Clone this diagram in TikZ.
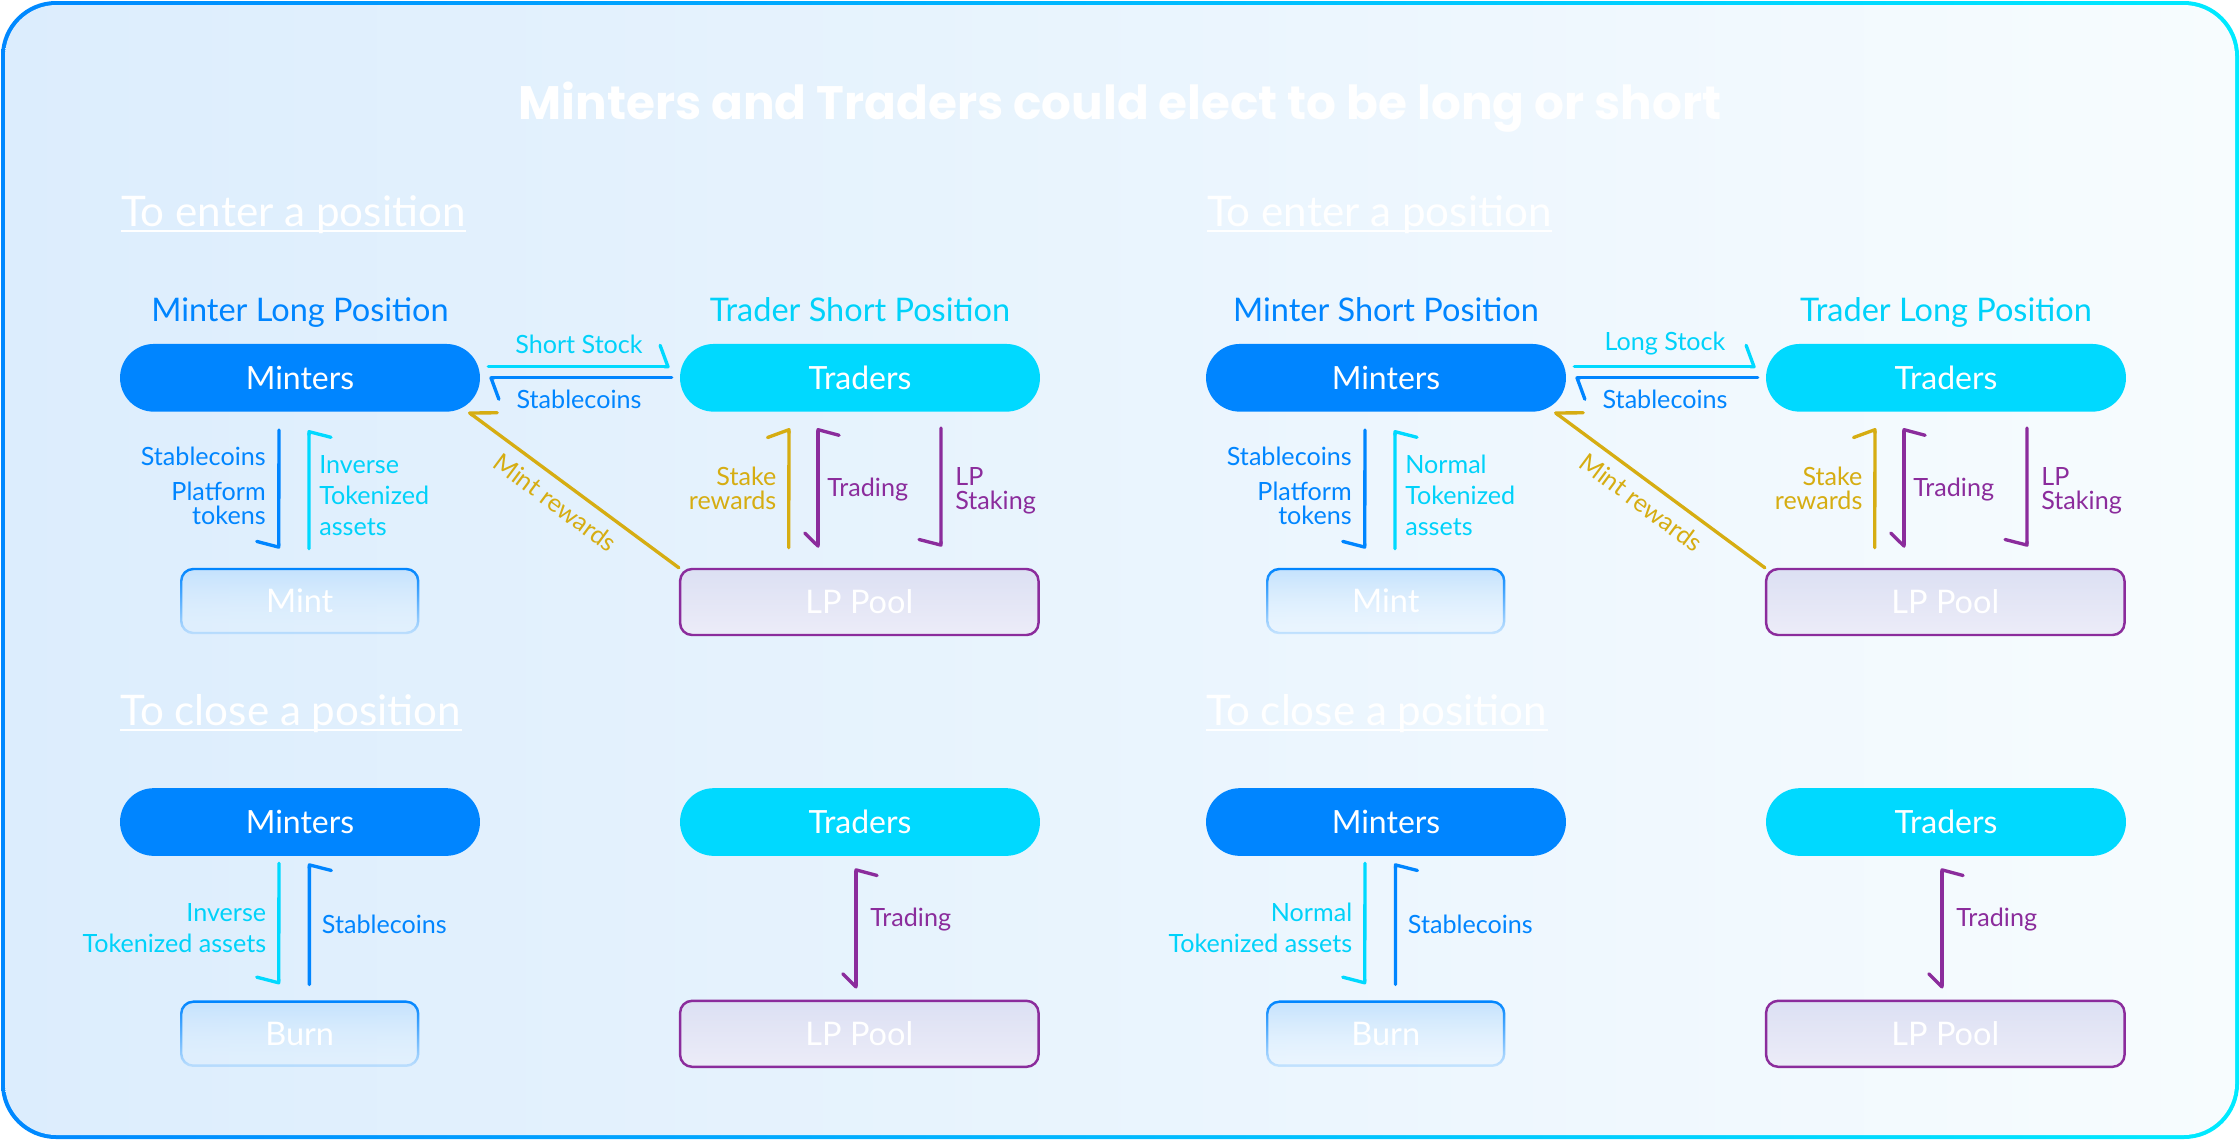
\documentclass[tikz,border=0pt]{standalone}
\usepackage{fontspec}
\setmainfont{Lato}
\newfontfamily\headfont{Poppins}
\usetikzlibrary{arrows.meta,fadings}
\definecolor{minterblue}{RGB}{0,133,255}
\definecolor{tradercyan}{RGB}{0,217,255}
\definecolor{cyantext}{RGB}{0,210,250}
\definecolor{rewardgold}{RGB}{214,173,18}
\definecolor{poolpurple}{RGB}{139,44,156}
\definecolor{bgleft}{RGB}{220,237,253}
\definecolor{bgmid}{RGB}{230,246,253}
\definecolor{bgright}{RGB}{247,252,254}
\definecolor{frameleft}{RGB}{0,136,255}
\definecolor{frameright}{RGB}{0,234,255}
\definecolor{minttop}{RGB}{196,226,253}
\definecolor{mintbot}{RGB}{228,242,254}
\definecolor{pooltop}{RGB}{220,224,243}
\definecolor{poolbot}{RGB}{236,236,248}
\tikzfading[name=fadebox, top color=transparent!0, bottom color=transparent!85]
\tikzset{
  every node/.style={inner sep=0pt},
  pill/.style={rounded corners=0.675cm, minimum width=7.2cm, minimum height=1.354cm,
    text=white, font=\fontsize{18.2}{20}\selectfont},
  minterpill/.style={pill, fill=minterblue},
  traderpill/.style={pill, fill=tradercyan},
  mintbox/.style={rounded corners=0.24cm, minimum width=4.74cm, minimum height=1.28cm,
    draw=minterblue, line width=1.4pt, top color=minttop, bottom color=mintbot,
    path fading=fadebox, text=white, font=\fontsize{18.5}{20}\selectfont},
  poolbox/.style={rounded corners=0.24cm, minimum width=7.17cm, minimum height=1.32cm,
    draw=poolpurple, line width=1.4pt, top color=pooltop, bottom color=poolbot,
    text=white, font=\fontsize{18.5}{20}\selectfont},
  head/.style={anchor=base, font=\fontsize{18.5}{20}\selectfont},
  section/.style={anchor=base west, text=white, font=\fontsize{24}{26}\selectfont},
  uline/.style={draw=white, line width=1pt},
  lbl/.style={font=\fontsize{14.3}{13.8}\selectfont},
  flow/.style={line width=1.9pt, line cap=round},
  cyanflow/.style={flow, draw=tradercyan},
  blueflow/.style={flow, draw=minterblue},
  goldflow/.style={flow, draw=rewardgold},
  purpflow/.style={flow, draw=poolpurple},
  barbl/.style={-{Straight Barb[harpoon, round, length=4.5pt, width=24.4pt]}},
  barbr/.style={-{Straight Barb[harpoon, swap, round, length=3.2pt, width=25pt]}},
  tradeflow/.style={{Straight Barb[harpoon, swap, round, length=3.2pt, width=24pt]}-{Straight Barb[harpoon, swap, round, length=7.4pt, width=15pt]}},
  mintflow/.style={-{Straight Barb[harpoon, swap, round, length=12.5pt, width=18.8pt]}}
}
\begin{document}
\begin{tikzpicture}[x=0.02cm, y=-0.02cm]
  \useasboundingbox (0,0) rectangle (2240,1140);

  % Frame and background.
  \shade[left color=frameleft, right color=frameright, rounded corners=1.1cm] (1,1) rectangle (2239,1139);
  \shade[left color=bgleft, middle color=bgmid, right color=bgright, rounded corners=1.03cm] (5,5) rectangle (2235,1135);

  % Title.
  \node[anchor=base, text=white, font={\headfont\bfseries\fontsize{26.7}{30}\selectfont}] (title)
    at (1120,119.3) {Minters and Traders could elect to be long or short};

  % Both halves: minter long / trader short, then minter short / trader long.
  \foreach \dx/\mside/\tside/\stock/\asset/\pos in
      {0/Long/Short/Short Stock/Inverse/L, 1086/Short/Long/Long Stock/Normal/R} {
    \begin{scope}[shift={(\dx,0)}]
      % To enter a position.
      \node[section] (enter\pos) at (120.7,226) {To enter a position};
      \draw[uline] ([yshift=-2.8pt]enter\pos.base west) -- ([yshift=-2.8pt]enter\pos.base east);
      \node[head, text=minterblue] (mhead\pos) at (300,321.7) {Minter \mside\ Position};
      \node[head, text=cyantext] (thead\pos) at (860,321.7) {Trader \tside\ Position};
      \node[minterpill] (min\pos) at (300,377.8) {Minters};
      \node[traderpill] (trd\pos) at (860,377.8) {Traders};
      \node[mintbox] (mint\pos) at (299.7,601) {Mint};
      \node[poolbox] (lp\pos) at (859.3,602) {LP Pool};

      % Minters <-> Traders.
      \draw[cyanflow, barbl] ([shift={(8,-11)}]min\pos.east) -- ([shift={(-10,-11)}]trd\pos.west);
      \draw[blueflow, barbl] ([shift={(-8,0)}]trd\pos.west) -- ([shift={(9,0)}]min\pos.east);
      \node[lbl, text=cyantext] (stock\pos) at (579,344) {\stock};
      \node[lbl, text=minterblue] (coin\pos) at (579,399) {Stablecoins};

      % Minters <-> Mint.
      \draw[blueflow, barbr] ([shift={(-21,18)}]min\pos.south) -- ([shift={(-21,-19)}]mint\pos.north);
      \draw[cyanflow, barbr] ([shift={(9.3,-19)}]mint\pos.north) -- ([shift={(9,18)}]min\pos.south);
      \node[lbl, text=minterblue, anchor=east, align=right] (pay\pos) at (266,486)
        {Stablecoins\\[5.9pt]Platform\\tokens};
      \node[lbl, text=cyantext, anchor=west, align=left, font=\fontsize{14.3}{17.6}\selectfont]
        (get\pos) at (319,495.7) {\asset\\Tokenized\\assets};

      % Traders <-> LP Pool.
      \draw[goldflow, barbl] ([shift={(-70.6,-20)}]lp\pos.north) -- ([shift={(-71,16)}]trd\pos.south);
      \draw[purpflow, tradeflow] ([shift={(-42,16)}]trd\pos.south) -- ([shift={(-41.3,-20)}]lp\pos.north);
      \draw[purpflow, barbr] ([shift={(81,16)}]trd\pos.south) -- ([shift={(81.7,-21)}]lp\pos.north);
      \node[lbl, text=rewardgold, anchor=east, align=right] (stake\pos) at (776.7,488) {Stake\\rewards};
      \node[lbl, text=poolpurple, anchor=base west] (trade\pos) at (827,496.3) {Trading};
      \node[lbl, text=poolpurple, anchor=west, align=left] (lpst\pos) at (955,490.7) {LP\\Staking};

      % LP Pool -> Minters.
      \draw[goldflow, mintflow] (lp\pos.north west) -- ([shift={(-12,0)}]min\pos.south east);
      \node[lbl, text=rewardgold, rotate=-36.7] (mrew\pos) at (555.5,502.5) {Mint rewards};

      % To close a position.
      \node[section] (close\pos) at (120,725) {To close a position};
      \draw[uline] ([yshift=-2.8pt]close\pos.base west) -- ([yshift=-2.8pt]close\pos.base east);
      \node[minterpill] (cmin\pos) at (300,822) {Minters};
      \node[traderpill] (ctrd\pos) at (860,822) {Traders};
      \node[mintbox] (burn\pos) at (299.7,1033.7) {Burn};
      \node[poolbox] (clp\pos) at (859.3,1033.8) {LP Pool};

      \draw[cyanflow, barbr] ([shift={(-21,7)}]cmin\pos.south) -- ([shift={(-21,-16)}]burn\pos.north);
      \draw[blueflow, barbr] ([shift={(9.7,-16)}]burn\pos.north) -- ([shift={(9.4,7)}]cmin\pos.south);
      \draw[purpflow, tradeflow] ([shift={(-4,12)}]ctrd\pos.south) -- ([shift={(-3.3,-11)}]clp\pos.north);
      \node[lbl, text=cyantext, anchor=east, align=right, font=\fontsize{14.3}{18}\selectfont]
        (cget\pos) at (266.5,928) {\asset\\Tokenized assets};
      \node[lbl, text=minterblue, anchor=west] (cpay\pos) at (321.6,924) {Stablecoins};
      \node[lbl, text=poolpurple, anchor=base west] (ctrade\pos) at (870,926.3) {Trading};
    \end{scope}
  }
\end{tikzpicture}
\end{document}
